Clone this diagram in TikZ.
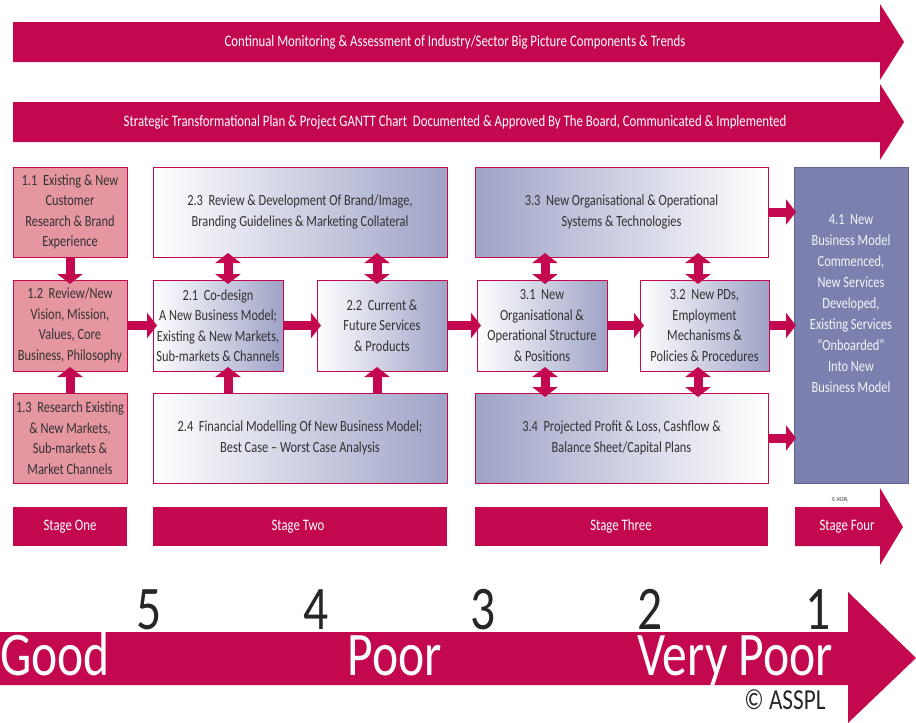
\documentclass[tikz,border=0pt]{standalone}
\usepackage{fontspec}
\setmainfont[FakeStretch=0.8]{Carlito}
\usetikzlibrary{arrows.meta}
\definecolor{crim}{RGB}{196,8,80}
\definecolor{pinkf}{RGB}{229,150,160}
\definecolor{lav}{RGB}{158,163,199}
\definecolor{slate}{RGB}{123,128,174}
\definecolor{slated}{RGB}{95,101,146}
\definecolor{txt}{RGB}{50,50,50}
\begin{document}
\begin{tikzpicture}[x=1pt,y=-1pt,
  box/.style={draw=crim, line width=0.8pt, inner sep=1pt, outer sep=0pt, align=center, text=txt, font=\fontsize{15.5}{20.5}\selectfont},
  pinkbox/.style={box, fill=pinkf},
  wbr/.style={box, left color=white, right color=lav},
  bwr/.style={box, left color=lav, right color=white},
  conn/.style={crim, line width=9pt, -{Triangle[width=25pt,length=10pt]}, shorten >=-4pt},
  dconn/.style={crim, line width=9pt, {Triangle[width=25pt,length=10pt]}-{Triangle[width=25pt,length=10pt]}, shorten >=-4pt, shorten <=-4pt},
  banner/.style={fill=crim},
  btext/.style={text=white, font=\fontsize{16}{18}\selectfont, inner sep=0pt},
  stext/.style={text=white, font=\fontsize{16}{18}\selectfont, inner sep=0pt},
  big/.style={font=\fontsize{62}{64}\selectfont, inner sep=0pt, text height=38pt, text depth=0pt}
]
\useasboundingbox (0,0) rectangle (916,723);

% top banners
\fill[banner] (13,22) -- (880,22) -- (880,4) -- (904,42) -- (880,80) -- (880,62) -- (13,62) -- cycle;
\node[btext] (top1) at (455,42) {Continual Monitoring \& Assessment of Industry/Sector Big Picture Components \& Trends};
\fill[banner] (13,102) -- (880,102) -- (880,84) -- (904,122) -- (880,160) -- (880,142) -- (13,142) -- cycle;
\node[btext] (top2) at (455,122) {Strategic Transformational Plan \& Project GANTT Chart\ \ Documented \& Approved By The Board, Communicated \& Implemented};

% stage one
\node[pinkbox, minimum width=114pt, minimum height=90pt] (b11) at (70,212) {1.1\ \ Existing \& New\\Customer\\Research \& Brand\\Experience};
\node[pinkbox, minimum width=114pt, minimum height=91pt] (b12) at (70,325.5) {1.2\ \ Review/New\\Vision, Mission,\\Values, Core\\Business, Philosophy};
\node[pinkbox, minimum width=114pt, minimum height=90pt] (b13) at (70,438) {1.3\ \ Research Existing\\\& New Markets,\\Sub-markets \&\\Market Channels};

% stage two
\node[wbr, minimum width=294pt, minimum height=90pt] (b23) at (300,212) {2.3\ \ Review \& Development Of Brand/Image,\\Branding Guidelines \& Marketing Collateral};
\node[wbr, minimum width=130pt, minimum height=91pt] (b21) at (218,325.5) {2.1\ \ Co-design\\A New Business Model;\\Existing \& New Markets,\\Sub-markets \& Channels};
\node[wbr, minimum width=130pt, minimum height=91pt] (b22) at (382,325.5) {2.2\ \ Current \&\\Future Services\\\& Products};
\node[wbr, minimum width=294pt, minimum height=90pt] (b24) at (300,438) {2.4\ \ Financial Modelling Of New Business Model;\\Best Case -- Worst Case Analysis};

% stage three
\node[bwr, minimum width=293pt, minimum height=90pt] (b33) at (621.5,212) {3.3\ \ New Organisational \& Operational\\Systems \& Technologies};
\node[wbr, minimum width=130pt, minimum height=91pt] (b31) at (542,325.5) {3.1\ \ New\\Organisational \&\\Operational Structure\\\& Positions};
\node[wbr, minimum width=129pt, minimum height=91pt] (b32) at (704.5,325.5) {3.2\ \ New PDs,\\Employment\\Mechanisms \&\\Policies \& Procedures};
\node[bwr, minimum width=293pt, minimum height=90pt] (b34) at (621.5,438) {3.4\ \ Projected Profit \& Loss, Cashflow \&\\Balance Sheet/Capital Plans};

% stage four
\node[draw=slated, fill=slate, line width=0.8pt, outer sep=0pt, minimum width=114pt, minimum height=316pt] (b41) at (851,325) {};
\node[align=center, text=white!92!slate, font=\fontsize{15.5}{21}\selectfont, inner sep=0pt] (t41) at (851,304) {4.1\ \ New\\Business Model\\Commenced,\\New Services\\Developed,\\Existing Services\\``Onboarded''\\Into New\\Business Model};

% connector x positions
\coordinate (x21) at (228,0);
\coordinate (x22) at (377,0);
\coordinate (x31) at (545,0);
\coordinate (x32) at (698,0);

% connectors
\draw[conn] (b11.south) -- (b12.north);
\draw[conn] (b13.north) -- (b12.south);
\draw[conn] (b12.east) -- (b21.west);
\draw[conn] (b21.east) -- (b22.west);
\draw[conn] (b22.east) -- (b31.west);
\draw[conn] (b31.east) -- (b32.west);
\draw[conn, shorten >=-2pt] (b32.east) -- (b32.east -| b41.west);
\draw[conn, shorten >=-2pt] (b33.east) -- (b33.east -| b41.west);
\draw[conn, shorten >=-2pt] (b34.east) -- (b34.east -| b41.west);
\draw[dconn] (b23.south -| x21) -- (b21.north -| x21);
\draw[conn] (b24.north -| x21) -- (b21.south -| x21);
\draw[dconn] (b23.south -| x22) -- (b22.north -| x22);
\draw[conn] (b24.north -| x22) -- (b22.south -| x22);
\draw[dconn] (b33.south -| x31) -- (b31.north -| x31);
\draw[dconn] (b31.south -| x31) -- (b34.north -| x31);
\draw[dconn] (b33.south -| x32) -- (b32.north -| x32);
\draw[dconn] (b32.south -| x32) -- (b34.north -| x32);

% stage bars
\fill[banner] (13,507) rectangle (127,546);
\node[stext] (s1) at (70,526.5) {Stage One};
\fill[banner] (153,507) rectangle (447,546);
\node[stext] (s2) at (298,526.5) {Stage Two};
\fill[banner] (475,507) rectangle (768,546);
\node[stext] (s3) at (621,526.5) {Stage Three};
\fill[banner] (795,507) -- (880,507) -- (880,488) -- (903,527) -- (880,565) -- (880,546) -- (795,546) -- cycle;
\node[stext] (s4) at (847,526.5) {Stage Four};
\node[text=txt, font=\fontsize{6}{7}\selectfont, inner sep=0pt] (c1) at (840,499) {\textcopyright\ ASSPL};

% bottom scale arrow
\fill[banner] (0,632) -- (848,632) -- (848,592) -- (916,658) -- (848,723) -- (848,685) -- (0,685) -- cycle;
\node[big, text=black!85] (n5) at (149,610) {5};
\node[big, text=black!85] (n4) at (316,610) {4};
\node[big, text=black!85] (n3) at (483,610) {3};
\node[big, text=black!85] (n2) at (650,610) {2};
\node[big, text=black!85] (n1) at (818,610) {1};
\node[big, text=white, anchor=west] (good) at (0,656) {Good};
\node[big, text=white] (poor) at (395,656) {Poor};
\node[big, text=white] (vpoor) at (735,656) {Very Poor};
\node[text=black!85, font=\fontsize{29}{30}\selectfont, inner sep=0pt] (c2) at (785,700) {\textcopyright\ ASSPL};
\end{tikzpicture}
\end{document}
